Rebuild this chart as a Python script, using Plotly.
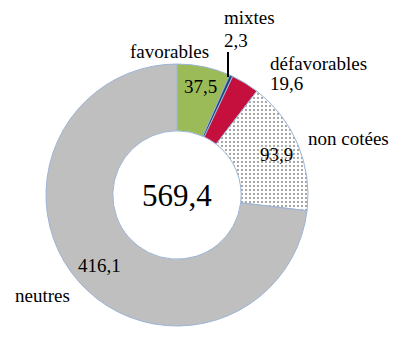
import plotly.graph_objects as go

categories = ["favorables", "mixtes", "défavorables", "non cotées", "neutres"]
values = [37.5, 2.3, 19.6, 93.9, 416.1]
colors = ["#9BBB59", "#1F497D", "#C50F3C", "#FFFFFF", "#BFBFBF"]
patterns = ["", "", "", ".", ""]

def fr(v):
    return f"{v:.1f}".replace(".", ",")

total = sum(values)

W, H = 406, 339
cx, cy, R = 177, 195, 131

fig = go.Figure(go.Pie(
    labels=categories,
    values=values,
    hole=0.49,
    sort=False,
    direction="clockwise",
    rotation=0,
    textinfo="none",
    hoverinfo="none",
    marker=dict(
        colors=colors,
        line=dict(color="#9DB4D6", width=1),
        pattern=dict(shape=patterns, fgcolor="black", bgcolor="white",
                     size=4, solidity=0.08),
    ),
    domain=dict(x=[(cx - R) / W, (cx + R) / W],
                y=[(H - cy - R) / H, (H - cy + R) / H]),
    showlegend=False,
))

FONT = "Liberation Serif"

def px(x):
    return x / W

def py(y):
    return 1 - y / H

ann = []
def add(text, x, y, size=19, xanchor="center"):
    ann.append(dict(text=text, x=px(x), y=py(y), xref="paper", yref="paper",
                    showarrow=False, xanchor=xanchor, yanchor="middle",
                    font=dict(family=FONT, size=size, color="black")))

# category names (outside)
add(categories[0], 169, 51)
add(categories[1], 222, 17, xanchor="left")
add(fr(values[1]), 222, 40, xanchor="left")
add(categories[2], 268, 63, xanchor="left")
add(fr(values[2]), 268, 84, xanchor="left")
add(categories[3], 306, 138, xanchor="left")
add(categories[4], 42, 295)
# inside values
add(fr(values[0]), 200, 86)
add(fr(values[3]), 276, 154)
add(fr(values[4]), 99, 265)
# total
add(fr(total), cx, cy, size=31)

fig.update_layout(
    width=W, height=H,
    margin=dict(l=0, r=0, t=0, b=0),
    paper_bgcolor="white", plot_bgcolor="white",
    font=dict(family=FONT, size=19, color="black"),
    annotations=ann,
    shapes=[dict(type="line", xref="paper", yref="paper",
                 x0=px(228), x1=px(228), y0=py(52), y1=py(77),
                 line=dict(color="black", width=2))],
)

fig.write_html("out.html")
